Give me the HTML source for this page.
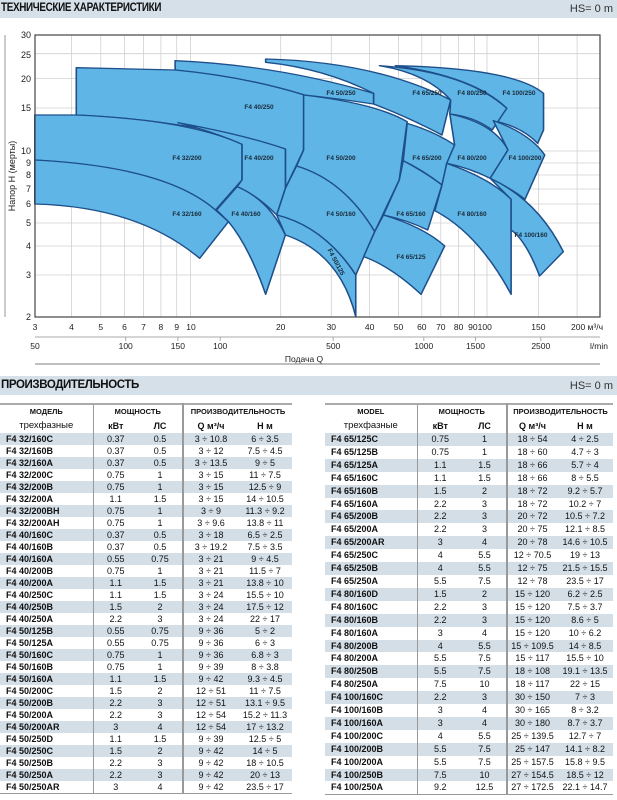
<!DOCTYPE html>
<html><head><meta charset="utf-8"><style>
*{margin:0;padding:0;box-sizing:border-box}
body{width:617px;height:800px;background:#fff;position:relative;overflow:hidden;font-family:"Liberation Sans",sans-serif;color:#111}
.band{position:absolute;left:0;width:617px;background:#d5e0e8}
.band b{position:absolute;left:1px;font-size:11.5px;font-weight:bold;letter-spacing:-0.4px;transform-origin:0 0}
.band span{position:absolute;right:4px;font-size:11px;color:#333}
table{position:absolute;border-collapse:collapse;font-size:9px;border-top:2px solid #aaa;border-bottom:1.5px solid #999;table-layout:fixed}
td{padding:0;text-align:center;white-space:nowrap;overflow:hidden}
#tl tbody td{height:12px;line-height:12px}
#tr tbody td{height:12.9px;line-height:12.9px}
td:first-child{text-align:left;padding-left:6px;font-weight:bold}
tr.h td{height:14px;line-height:14px;text-align:center;font-weight:bold;font-size:7.5px;padding:0}
tr.h2 td{height:14px;line-height:14px;text-align:center;font-weight:bold;font-size:9px;padding:0}
tr.h2 td:first-child{font-weight:normal;font-size:9.5px}
tbody tr:nth-child(odd) td{background:#d3dee7}
.c1{border-right:1px solid #999}.c3{border-right:2px solid #999}
</style></head><body>
<div class="band" style="top:0;height:18px"><b style="top:2px;transform:scaleX(0.86)">ТЕХНИЧЕСКИЕ ХАРАКТЕРИСТИКИ</b><span style="top:3px">HS= 0 m</span></div>
<div class="band" style="top:376px;height:19px"><b style="top:3px">ПРОИЗВОДИТЕЛЬНОСТЬ</b><span style="top:4px">HS= 0 m</span></div>

<svg width="617" height="370" style="position:absolute;left:0;top:0" font-family="Liberation Sans, sans-serif">
<g stroke="#d0d0d0" stroke-width="0.8">
<line x1="35" x2="600" y1="53.7" y2="53.7"/><line x1="35" x2="600" y1="78.5" y2="78.5"/><line x1="35" x2="600" y1="108" y2="108"/><line x1="35" x2="600" y1="151" y2="151"/><line x1="35" x2="600" y1="163" y2="163"/><line x1="35" x2="600" y1="175" y2="175"/><line x1="35" x2="600" y1="189" y2="189"/><line x1="35" x2="600" y1="204" y2="204"/><line x1="35" x2="600" y1="223" y2="223"/><line x1="35" x2="600" y1="246" y2="246"/><line x1="35" x2="600" y1="275" y2="275"/>
<line y1="35" y2="317" x1="71.5" x2="71.5"/><line y1="35" y2="317" x1="100.8" x2="100.8"/><line y1="35" y2="317" x1="124.5" x2="124.5"/><line y1="35" y2="317" x1="143.5" x2="143.5"/><line y1="35" y2="317" x1="160.9" x2="160.9"/><line y1="35" y2="317" x1="176.7" x2="176.7"/><line y1="35" y2="317" x1="190.5" x2="190.5"/><line y1="35" y2="317" x1="280.7" x2="280.7"/><line y1="35" y2="317" x1="331.3" x2="331.3"/><line y1="35" y2="317" x1="369.6" x2="369.6"/><line y1="35" y2="317" x1="398.5" x2="398.5"/><line y1="35" y2="317" x1="421.8" x2="421.8"/><line y1="35" y2="317" x1="440.8" x2="440.8"/><line y1="35" y2="317" x1="458.6" x2="458.6"/><line y1="35" y2="317" x1="474.4" x2="474.4"/><line y1="35" y2="317" x1="487" x2="487"/><line y1="35" y2="317" x1="538.4" x2="538.4"/><line y1="35" y2="317" x1="577.1" x2="577.1"/>
</g>
<g transform="scale(0.3953 0.33333)" fill="#5fb6e6" stroke="#1e4f8a" stroke-width="4" stroke-linejoin="round">
<path d="M1000,197 Q1300,205 1375,280 L1375,390 L1360,430 Q1320,380 1248,362 L1282,325 Q1200,230 1000,197 Z"/>
<path d="M960,197 Q1180,215 1282,325 L1245,390 Q1200,350 1138,342 L1140,300 Q1080,220 960,197 Z"/>
<path d="M672,177 Q950,185 1140,300 L1118,405 Q1030,350 945,312 L945,280 Q820,205 672,187 Z"/>
<path d="M443,182 Q700,195 945,280 L945,312 Q850,295 770,285 Q620,230 443,210 Z"/>
<path d="M193,203 L443,210 Q620,230 770,285 L768,450 L722,565 L722,447 Q480,360 193,345 Z"/>
<path d="M450,368 Q620,405 722,447 L722,565 L700,645 Q650,585 600,560 L612,540 L612,433 Q540,395 450,368 Z"/>
<path d="M88,345 L193,345 Q480,360 612,433 L612,540 L545,630 Q400,500 88,480 Z"/>
<path d="M88,480 Q420,500 545,630 L578,665 L505,775 Q350,620 88,612 Z"/>
<path d="M548,630 L600,560 Q680,600 722,705 L672,883 Q630,740 578,665 Z"/>
<path d="M768,285 Q950,310 1030,365 L1010,540 L948,695 Q860,540 750,498 L768,450 Z"/>
<path d="M750,498 Q870,540 948,695 L900,825 Q820,680 700,645 L722,565 Z"/>
<path d="M700,645 Q820,680 900,825 L900,950 Q860,760 722,705 Z"/>
<path d="M1030,370 Q1100,395 1150,435 L1118,555 Q1070,510 1020,482 Z"/>
<path d="M1020,482 Q1080,520 1118,555 L1082,690 Q1030,660 970,645 L1010,540 Z"/>
<path d="M970,645 Q1070,680 1125,738 L1065,883 Q990,800 920,770 L948,695 Z"/>
<path d="M1138,342 Q1250,370 1285,450 L1240,535 Q1190,505 1130,490 L1150,435 Z"/>
<path d="M1130,490 Q1240,535 1293,598 L1293,883 Q1210,700 1100,632 L1118,555 Z"/>
<path d="M1248,362 Q1340,400 1378,465 L1328,598 Q1300,570 1240,535 L1285,450 Z"/>
<path d="M1240,535 Q1360,600 1425,755 L1365,828 Q1330,720 1293,690 L1293,598 Z"/>
</g>
<g font-size="6.5" font-weight="bold" fill="#1a2a3a" text-anchor="middle">
<text x="187" y="160">F4 32/200</text><text x="259" y="109">F4 40/250</text><text x="341" y="95">F4 50/250</text><text x="427" y="95">F4 65/250</text><text x="472" y="95">F4 80/250</text><text x="519" y="95">F4 100/250</text>
<text x="259" y="160">F4 40/200</text><text x="341" y="160">F4 50/200</text><text x="427" y="160">F4 65/200</text><text x="472" y="160">F4 80/200</text><text x="525" y="160">F4 100/200</text>
<text x="187" y="216">F4 32/160</text><text x="246" y="216">F4 40/160</text><text x="341" y="216">F4 50/160</text><text x="411" y="216">F4 65/160</text><text x="472" y="216">F4 80/160</text><text x="531" y="237">F4 100/160</text><text x="411" y="259">F4 65/125</text>
<text x="336" y="264" transform="rotate(62 336 262)">F4 50/125</text>
</g>
<rect x="35" y="35" width="565" height="282" fill="none" stroke="#444" stroke-width="1.2"/>
<line x1="5" y1="35" x2="5" y2="317" stroke="#999"/>
<g font-size="9" fill="#222" text-anchor="end">
<text x="31" y="38">30</text><text x="31" y="58">25</text><text x="31" y="82">20</text><text x="31" y="111">15</text><text x="31" y="154">10</text><text x="31" y="166">9</text><text x="31" y="178">8</text><text x="31" y="192">7</text><text x="31" y="207">6</text><text x="31" y="226">5</text><text x="31" y="249">4</text><text x="31" y="278">3</text><text x="31" y="320">2</text>
</g>
<text transform="translate(15 176) rotate(-90)" font-size="9" text-anchor="middle" fill="#222">Напор H  (мерты)</text>
<g font-size="8.5" fill="#222" text-anchor="middle">
<text x="35" y="330">3</text><text x="71.5" y="330">4</text><text x="100.8" y="330">5</text><text x="124.5" y="330">6</text><text x="143.5" y="330">7</text><text x="160.9" y="330">8</text><text x="176.7" y="330">9</text><text x="191" y="330">10</text><text x="280.7" y="330">20</text><text x="331.3" y="330">30</text><text x="369.6" y="330">40</text><text x="398.5" y="330">50</text><text x="421.8" y="330">60</text><text x="440.8" y="330">70</text><text x="458.6" y="330">80</text><text x="480" y="330">90100</text><text x="538.4" y="330">150</text><text x="587" y="330">200 м³/ч</text>
<text x="35" y="349">50</text><text x="125.7" y="349">100</text><text x="177.9" y="349">150</text><text x="220.2" y="349">100</text><text x="333.2" y="349">500</text><text x="423.8" y="349">1000</text><text x="475.5" y="349">1500</text><text x="540.8" y="349">2500</text><text x="599" y="349">l/min</text>
<text x="304" y="362">Подача Q</text>
</g>
<line x1="35" y1="337" x2="600" y2="337" stroke="#aaa"/>
<g stroke="#aaa"><line x1="125.7" y1="337" x2="125.7" y2="341"/><line x1="177.9" y1="337" x2="177.9" y2="341"/><line x1="220.2" y1="337" x2="220.2" y2="341"/><line x1="333.2" y1="337" x2="333.2" y2="341"/><line x1="423.8" y1="337" x2="423.8" y2="341"/><line x1="475.5" y1="337" x2="475.5" y2="341"/><line x1="540.8" y1="337" x2="540.8" y2="341"/></g>
<line x1="35" y1="364" x2="600" y2="364" stroke="#999" stroke-width="1.2"/>
</svg>

<table id="tl" style="left:0;top:403px;width:292px">
<colgroup><col style="width:93px"><col style="width:45px"><col style="width:45px"><col style="width:55px"><col style="width:54px"></colgroup>
<thead><tr class="h"><td class="c1">МОДЕЛЬ</td><td colspan="2" class="c3">МОЩНОСТЬ</td><td colspan="2">ПРОИЗВОДИТЕЛЬНОСТЬ</td></tr>
<tr class="h2"><td class="c1">трехфазные</td><td>кВт</td><td class="c3">ЛС</td><td>Q м³/ч</td><td>H м</td></tr></thead>
<tbody>
<tr><td class="c1">F4 32/160C</td><td>0.37</td><td class="c3">0.5</td><td>3 ÷ 10.8</td><td>6 ÷ 3.5</td></tr>
<tr><td class="c1">F4 32/160B</td><td>0.37</td><td class="c3">0.5</td><td>3 ÷ 12</td><td>7.5 ÷ 4.5</td></tr>
<tr><td class="c1">F4 32/160A</td><td>0.37</td><td class="c3">0.5</td><td>3 ÷ 13.5</td><td>9 ÷ 5</td></tr>
<tr><td class="c1">F4 32/200C</td><td>0.75</td><td class="c3">1</td><td>3 ÷ 15</td><td>11 ÷ 7.5</td></tr>
<tr><td class="c1">F4 32/200B</td><td>0.75</td><td class="c3">1</td><td>3 ÷ 15</td><td>12.5 ÷ 9</td></tr>
<tr><td class="c1">F4 32/200A</td><td>1.1</td><td class="c3">1.5</td><td>3 ÷ 15</td><td>14 ÷ 10.5</td></tr>
<tr><td class="c1">F4 32/200BH</td><td>0.75</td><td class="c3">1</td><td>3 ÷ 9</td><td>11.3 ÷ 9.2</td></tr>
<tr><td class="c1">F4 32/200AH</td><td>0.75</td><td class="c3">1</td><td>3 ÷ 9.6</td><td>13.8 ÷ 11</td></tr>
<tr><td class="c1">F4 40/160C</td><td>0.37</td><td class="c3">0.5</td><td>3 ÷ 18</td><td>6.5 ÷ 2.5</td></tr>
<tr><td class="c1">F4 40/160B</td><td>0.37</td><td class="c3">0.5</td><td>3 ÷ 19.2</td><td>7.5 ÷ 3.5</td></tr>
<tr><td class="c1">F4 40/160A</td><td>0.55</td><td class="c3">0.75</td><td>3 ÷ 21</td><td>9 ÷ 4.5</td></tr>
<tr><td class="c1">F4 40/200B</td><td>0.75</td><td class="c3">1</td><td>3 ÷ 21</td><td>11.5 ÷ 7</td></tr>
<tr><td class="c1">F4 40/200A</td><td>1.1</td><td class="c3">1.5</td><td>3 ÷ 21</td><td>13.8 ÷ 10</td></tr>
<tr><td class="c1">F4 40/250C</td><td>1.1</td><td class="c3">1.5</td><td>3 ÷ 24</td><td>15.5 ÷ 10</td></tr>
<tr><td class="c1">F4 40/250B</td><td>1.5</td><td class="c3">2</td><td>3 ÷ 24</td><td>17.5 ÷ 12</td></tr>
<tr><td class="c1">F4 40/250A</td><td>2.2</td><td class="c3">3</td><td>3 ÷ 24</td><td>22 ÷ 17</td></tr>
<tr><td class="c1">F4 50/125B</td><td>0.55</td><td class="c3">0.75</td><td>9 ÷ 36</td><td>5 ÷ 2</td></tr>
<tr><td class="c1">F4 50/125A</td><td>0.55</td><td class="c3">0.75</td><td>9 ÷ 36</td><td>6 ÷ 3</td></tr>
<tr><td class="c1">F4 50/160C</td><td>0.75</td><td class="c3">1</td><td>9 ÷ 36</td><td>6.8 ÷ 3</td></tr>
<tr><td class="c1">F4 50/160B</td><td>0.75</td><td class="c3">1</td><td>9 ÷ 39</td><td>8 ÷ 3.8</td></tr>
<tr><td class="c1">F4 50/160A</td><td>1.1</td><td class="c3">1.5</td><td>9 ÷ 42</td><td>9.3 ÷ 4.5</td></tr>
<tr><td class="c1">F4 50/200C</td><td>1.5</td><td class="c3">2</td><td>12 ÷ 51</td><td>11 ÷ 7.5</td></tr>
<tr><td class="c1">F4 50/200B</td><td>2.2</td><td class="c3">3</td><td>12 ÷ 51</td><td>13.1 ÷ 9.5</td></tr>
<tr><td class="c1">F4 50/200A</td><td>2.2</td><td class="c3">3</td><td>12 ÷ 54</td><td>15.2 ÷ 11.3</td></tr>
<tr><td class="c1">F4 50/200AR</td><td>3</td><td class="c3">4</td><td>12 ÷ 54</td><td>17 ÷ 13.2</td></tr>
<tr><td class="c1">F4 50/250D</td><td>1.1</td><td class="c3">1.5</td><td>9 ÷ 39</td><td>12.5 ÷ 5</td></tr>
<tr><td class="c1">F4 50/250C</td><td>1.5</td><td class="c3">2</td><td>9 ÷ 42</td><td>14 ÷ 5</td></tr>
<tr><td class="c1">F4 50/250B</td><td>2.2</td><td class="c3">3</td><td>9 ÷ 42</td><td>18 ÷ 10.5</td></tr>
<tr><td class="c1">F4 50/250A</td><td>2.2</td><td class="c3">3</td><td>9 ÷ 42</td><td>20 ÷ 13</td></tr>
<tr><td class="c1">F4 50/250AR</td><td>3</td><td class="c3">4</td><td>9 ÷ 42</td><td>23.5 ÷ 17</td></tr>
</tbody></table>

<table id="tr" style="left:325px;top:403px;width:288px">
<colgroup><col style="width:92px"><col style="width:46px"><col style="width:44px"><col style="width:50px"><col style="width:56px"></colgroup>
<thead><tr class="h"><td class="c1">MODEL</td><td colspan="2" class="c3">МОЩНОСТЬ</td><td colspan="2">ПРОИЗВОДИТЕЛЬНОСТЬ</td></tr>
<tr class="h2"><td class="c1">трехфазные</td><td>кВт</td><td class="c3">ЛС</td><td>Q м³/ч</td><td>H м</td></tr></thead>
<tbody>
<tr><td class="c1">F4 65/125C</td><td>0.75</td><td class="c3">1</td><td>18 ÷ 54</td><td>4 ÷ 2.5</td></tr>
<tr><td class="c1">F4 65/125B</td><td>0.75</td><td class="c3">1</td><td>18 ÷ 60</td><td>4.7 ÷ 3</td></tr>
<tr><td class="c1">F4 65/125A</td><td>1.1</td><td class="c3">1.5</td><td>18 ÷ 66</td><td>5.7 ÷ 4</td></tr>
<tr><td class="c1">F4 65/160C</td><td>1.1</td><td class="c3">1.5</td><td>18 ÷ 66</td><td>8 ÷ 5.5</td></tr>
<tr><td class="c1">F4 65/160B</td><td>1.5</td><td class="c3">2</td><td>18 ÷ 72</td><td>9.2 ÷ 5.7</td></tr>
<tr><td class="c1">F4 65/160A</td><td>2.2</td><td class="c3">3</td><td>18 ÷ 72</td><td>10.2 ÷ 7</td></tr>
<tr><td class="c1">F4 65/200B</td><td>2.2</td><td class="c3">3</td><td>20 ÷ 72</td><td>10.5 ÷ 7.2</td></tr>
<tr><td class="c1">F4 65/200A</td><td>2.2</td><td class="c3">3</td><td>20 ÷ 75</td><td>12.1 ÷ 8.5</td></tr>
<tr><td class="c1">F4 65/200AR</td><td>3</td><td class="c3">4</td><td>20 ÷ 78</td><td>14.6 ÷ 10.5</td></tr>
<tr><td class="c1">F4 65/250C</td><td>4</td><td class="c3">5.5</td><td>12 ÷ 70.5</td><td>19 ÷ 13</td></tr>
<tr><td class="c1">F4 65/250B</td><td>4</td><td class="c3">5.5</td><td>12 ÷ 75</td><td>21.5 ÷ 15.5</td></tr>
<tr><td class="c1">F4 65/250A</td><td>5.5</td><td class="c3">7.5</td><td>12 ÷ 78</td><td>23.5 ÷ 17</td></tr>
<tr><td class="c1">F4 80/160D</td><td>1.5</td><td class="c3">2</td><td>15 ÷ 120</td><td>6.2 ÷ 2.5</td></tr>
<tr><td class="c1">F4 80/160C</td><td>2.2</td><td class="c3">3</td><td>15 ÷ 120</td><td>7.5 ÷ 3.7</td></tr>
<tr><td class="c1">F4 80/160B</td><td>2.2</td><td class="c3">3</td><td>15 ÷ 120</td><td>8.6 ÷ 5</td></tr>
<tr><td class="c1">F4 80/160A</td><td>3</td><td class="c3">4</td><td>15 ÷ 120</td><td>10 ÷ 6.2</td></tr>
<tr><td class="c1">F4 80/200B</td><td>4</td><td class="c3">5.5</td><td>15 ÷ 109.5</td><td>14 ÷ 8.5</td></tr>
<tr><td class="c1">F4 80/200A</td><td>5.5</td><td class="c3">7.5</td><td>15 ÷ 117</td><td>15.5 ÷ 10</td></tr>
<tr><td class="c1">F4 80/250B</td><td>5.5</td><td class="c3">7.5</td><td>18 ÷ 108</td><td>19.1 ÷ 13.5</td></tr>
<tr><td class="c1">F4 80/250A</td><td>7.5</td><td class="c3">10</td><td>18 ÷ 117</td><td>22 ÷ 15</td></tr>
<tr><td class="c1">F4 100/160C</td><td>2.2</td><td class="c3">3</td><td>30 ÷ 150</td><td>7 ÷ 3</td></tr>
<tr><td class="c1">F4 100/160B</td><td>3</td><td class="c3">4</td><td>30 ÷ 165</td><td>8 ÷ 3.2</td></tr>
<tr><td class="c1">F4 100/160A</td><td>3</td><td class="c3">4</td><td>30 ÷ 180</td><td>8.7 ÷ 3.7</td></tr>
<tr><td class="c1">F4 100/200C</td><td>4</td><td class="c3">5.5</td><td>25 ÷ 139.5</td><td>12.7 ÷ 7</td></tr>
<tr><td class="c1">F4 100/200B</td><td>5.5</td><td class="c3">7.5</td><td>25 ÷ 147</td><td>14.1 ÷ 8.2</td></tr>
<tr><td class="c1">F4 100/200A</td><td>5.5</td><td class="c3">7.5</td><td>25 ÷ 157.5</td><td>15.8 ÷ 9.5</td></tr>
<tr><td class="c1">F4 100/250B</td><td>7.5</td><td class="c3">10</td><td>27 ÷ 154.5</td><td>18.5 ÷ 12</td></tr>
<tr><td class="c1">F4 100/250A</td><td>9.2</td><td class="c3">12.5</td><td>27 ÷ 172.5</td><td>22.1 ÷ 14.7</td></tr>
</tbody></table>
</body></html>
